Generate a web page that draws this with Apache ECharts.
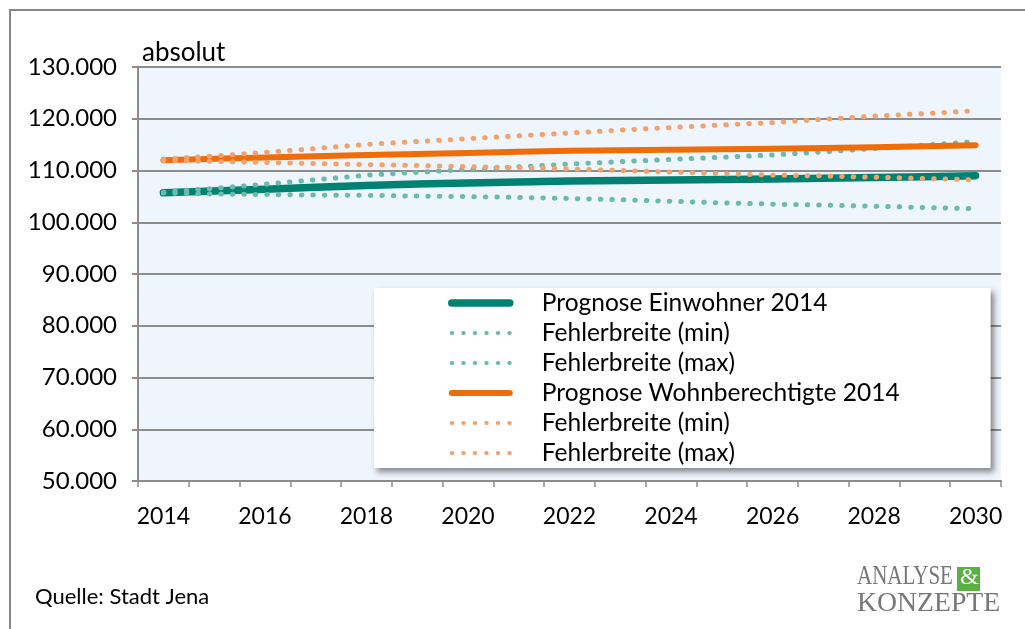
<!DOCTYPE html>
<html><head><meta charset="utf-8">
<script src="https://cdn.jsdelivr.net/npm/echarts@6/dist/echarts.min.js"></script>
<style>html,body{margin:0;padding:0;background:#fff}#c{width:1025px;height:629px}</style>
</head><body><div id="c"></div>
<script>
const years = ['2014','2015','2016','2017','2018','2019','2020','2021','2022','2023','2024','2025','2026','2027','2028','2029','2030'];
const einwohner = [105700,106050,106400,106750,107100,107400,107600,107800,107950,108050,108150,108250,108350,108500,108650,108800,109000];
const einwohnerMin = [105650,105450,105350,105250,105200,105050,104950,104800,104600,104350,104050,103750,103500,103300,103100,102850,102600];
const einwohnerMax = [105800,106550,107350,108200,109100,109650,110200,110700,111250,111700,112150,112550,113000,113600,114250,114900,115550];
const wohnber = [112000,112250,112500,112750,113000,113200,113400,113600,113800,113900,114000,114100,114200,114350,114500,114700,114900];
const wohnberMin = [111900,111750,111550,111350,111150,110950,110750,110550,110300,110000,109700,109400,109100,108950,108700,108450,108200];
const wohnberMax = [112200,112800,113500,114250,115050,115600,116150,116700,117250,117800,118300,118800,119250,119900,120500,121000,121550];
const names = ['Prognose Einwohner 2014','Fehlerbreite (min)','Fehlerbreite (max)','Prognose Wohnberechtigte 2014','Fehlerbreite (min)\u200B','Fehlerbreite (max)\u200B'];

const TEAL = '#008273', TEAL_D = '#6CBAAD', OR = '#EE6C0A', OR_D = '#F2A26C';
const FONT = 'Lato';
function solid(color, w){ return {color:color, width:w, cap:'round', join:'round'}; }
function dots(color, w){ return {color:color, width:w || 5, type:[0.5,11], cap:'round'}; }

const chart = echarts.init(document.getElementById('c'), null, {renderer:'canvas'});
const seriesDefs = [
  [names[0], einwohner, solid(TEAL,7.5), TEAL],
  [names[1], einwohnerMin, dots(TEAL_D), TEAL_D],
  [names[2], einwohnerMax, dots(TEAL_D), TEAL_D],
  [names[3], wohnber, solid(OR,6), OR],
  [names[4], wohnberMin, dots(OR_D), OR_D],
  [names[5], wohnberMax, dots(OR_D), OR_D]
];
chart.setOption({
  animation:false,
  textStyle:{fontFamily:FONT},
  grid:{left:138, right:24, top:67, bottom:148, show:true, backgroundColor:'#EEF5FD', borderWidth:0},
  xAxis:{type:'category', data:years, boundaryGap:true,
    axisLine:{lineStyle:{color:'#8C8C8C', width:2}},
    axisTick:{show:true, interval:0, length:6, lineStyle:{color:'#8C8C8C', width:1.5}},
    axisLabel:{interval:1, color:'#000', fontSize:23, fontFamily:FONT, margin:24}},
  yAxis:{type:'value', min:50000, max:130000, interval:10000,
    name:'absolut', nameLocation:'end', nameGap:1,
    nameTextStyle:{align:'left', color:'#000', fontSize:26, fontFamily:FONT, padding:[0,0,0,4]},
    axisLine:{show:true, lineStyle:{color:'#8C8C8C', width:2}},
    axisTick:{show:true, length:6, lineStyle:{color:'#8C8C8C', width:2}},
    splitLine:{lineStyle:{color:'#8C8C8C', width:2}},
    axisLabel:{color:'#000', fontSize:24, fontFamily:FONT, margin:21,
      formatter:function(v){ return (v/1000).toFixed(0)+'.000'; }}},
  legend:{orient:'vertical', left:374, top:288, padding:[0,91,0,74], itemGap:0,
    itemWidth:58, itemHeight:14, backgroundColor:'#fff',
    shadowBlur:6, shadowColor:'rgba(0,0,0,0.45)', shadowOffsetX:3, shadowOffsetY:4,
    itemStyle:{opacity:0, borderWidth:0},
    textStyle:{color:'#000', fontSize:24.5, fontFamily:FONT, lineHeight:30, padding:[0,0,0,27]},
    data: seriesDefs.map(function(d){
      var ls = d[2].type ? dots(d[3], 4) : d[2];
      return {name:d[0], lineStyle:ls, itemStyle:{opacity:0}}; })},
  series: seriesDefs.map(function(d){ return {
    name:d[0], type:'line', data:d[1], symbol:'none', smooth:false,
    lineStyle:d[2], itemStyle:{color:d[3]}, emphasis:{disabled:true}}; }),
  graphic:[
    {type:'rect', shape:{x:10, y:10, width:1100, height:700}, style:{fill:'none', stroke:'#878787', lineWidth:2}, silent:true, z:-1},
    {type:'text', left:35, top:586, style:{text:'Quelle: Stadt Jena', font:'22px Lato', fill:'#000'}},
    {type:'text', x:857, y:563, scaleX:0.75, style:{text:'ANALYSE', font:'28px "Liberation Serif"', fill:'#777'}},
    {type:'rect', shape:{x:957, y:567, width:23, height:24}, style:{fill:'#5BB042'}},
    {type:'text', x:960, y:566, style:{text:'&', font:'24px "Liberation Serif"', fill:'#fff'}},
    {type:'text', x:857, y:590, scaleX:0.99, style:{text:'KONZEPTE', font:'28px "Liberation Serif"', fill:'#777'}}
  ]
});
</script>
</body></html>
